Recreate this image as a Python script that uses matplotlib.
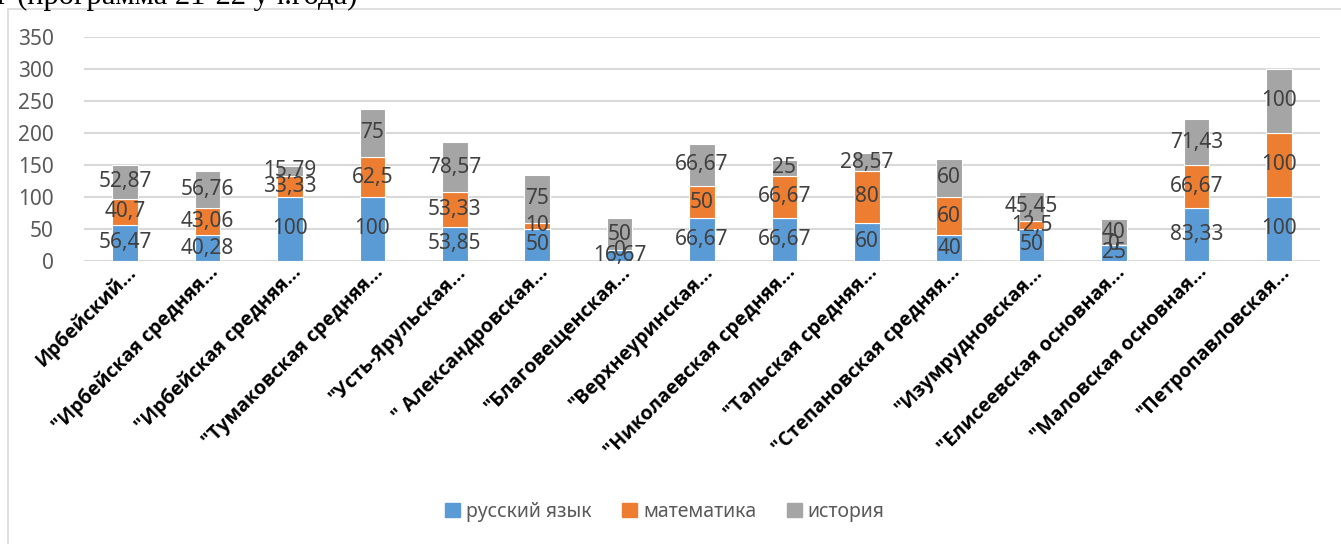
import matplotlib
matplotlib.use("Agg")
import numpy as np
import matplotlib.pyplot as plt
import matplotlib.patches as mpatches
from matplotlib.transforms import ScaledTranslation

schools = [
    "Ирбейский...",
    "\"Ирбейская средняя...",
    "\"Ирбейская средняя...",
    "\"Тумаковская средняя...",
    "\"Усть-Ярульская...",
    "\" Александровская...",
    "\"Благовещенская...",
    "\"Верхнеуринская...",
    "\"Николаевская средняя...",
    "\"Тальская средняя...",
    "\"Степановская средняя...",
    "\"Изумрудновская...",
    "\"Елисеевская основная...",
    "\"Маловская основная...",
    "\"Петропавловская...",
]
russian = [56.47, 40.28, 100, 100, 53.85, 50, 16.67, 66.67, 66.67, 60, 40, 50, 25, 83.33, 100]
math = [40.7, 43.06, 33.33, 62.5, 53.33, 10, 0, 50, 66.67, 80, 60, 12.5, 0, 66.67, 100]
history = [52.87, 56.76, 15.79, 75, 78.57, 75, 50, 66.67, 25, 28.57, 60, 45.45, 40, 71.43, 100]

series = [("русский язык", russian, "#5B9BD5"),
          ("математика", math, "#ED7D31"),
          ("история", history, "#A5A5A5")]

W, H = 1341, 544


def fmt(v):
    s = f"{v:.2f}".rstrip("0").rstrip(".")
    return s.replace(".", ",")


def main() -> None:
    plt.rcParams["font.family"] = ["Noto Sans", "DejaVu Sans"]
    fig = plt.figure(figsize=(W / 100, H / 100), dpi=100)

    # chart border and the cut-off heading above it
    fig.patches.append(mpatches.Rectangle((8 / W, -0.1), 1.2, 1 - 9 / H + 0.1,
                                          transform=fig.transFigure, fill=False,
                                          edgecolor="#D9D9D9", linewidth=1.2))
    fig.text(-3 / W, 1 - 4 / H, "г (программа 21-22 уч.года)", family="Liberation Serif",
             fontsize=22, va="baseline", ha="left", color="black")

    ax = fig.add_axes([84 / W, 1 - 261 / H, (1320 - 84) / W, (261 - 37) / H])
    x = np.arange(len(schools))
    bottom = np.zeros(len(schools))
    for name, vals, color in series:
        vals = np.array(vals, dtype=float)
        ax.bar(x, vals, 0.31, bottom=bottom, color=color, label=name,
               edgecolor="white", linewidth=0.8, zorder=3)
        for xi, b, v in zip(x, bottom, vals):
            ax.text(xi, b + v / 2, fmt(v), ha="center", va="center",
                    fontsize=15, color="#404040", zorder=4)
        bottom += vals

    ax.set_xlim(-0.5, len(schools) - 0.5)
    ax.set_ylim(0, 350)
    ax.set_yticks(range(0, 351, 50))
    ax.yaxis.grid(True, color="#D9D9D9", linewidth=1.5, zorder=0)
    ax.tick_params(axis="y", length=0, labelsize=15, labelcolor="#595959", pad=22)
    for s in ax.spines.values():
        s.set_visible(False)

    ax.set_xticks(x)
    ax.set_xticklabels(schools, rotation=45, ha="right", va="center",
                       rotation_mode="anchor", fontsize=14, fontweight="bold",
                       family=["Open Sans", "DejaVu Sans"], color="black")
    ax.tick_params(axis="x", length=0, pad=6)
    shift = ScaledTranslation(0.08, 0, fig.dpi_scale_trans)
    for lab in ax.get_xticklabels():
        lab.set_transform(lab.get_transform() + shift)

    handles = [mpatches.Patch(color=c) for _, _, c in series]
    fig.legend(handles, [n for n, _, _ in series], loc="center",
               bbox_to_anchor=(665 / W, 1 - 512 / H), ncol=3, frameon=False,
               fontsize=14, labelcolor="#595959", handlelength=0.75,
               handleheight=0.75, handletextpad=0.3, columnspacing=1.6)

    fig.savefig("out.png", dpi=100)


if __name__ == "__main__":
    main()
